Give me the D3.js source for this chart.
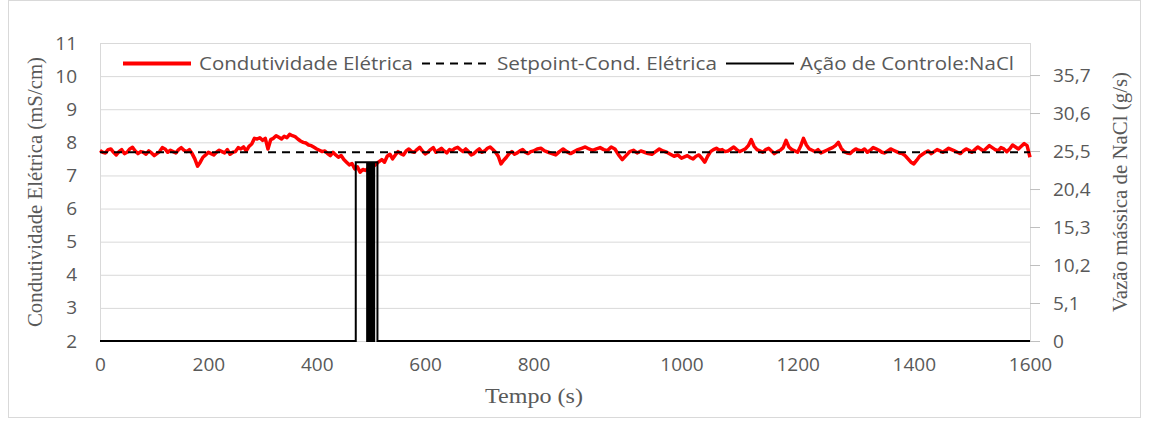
<!DOCTYPE html>
<html><head><meta charset="utf-8">
<script src="https://cdn.jsdelivr.net/npm/d3@7"></script>
<style>body{margin:0;background:#fff;}svg{display:block;}</style>
</head><body>
<svg id="c" width="1151" height="421"></svg>
<script>
// ---- data ----
const timeStep = 5;
const conductivity = [
 7.75,7.70,7.68,7.78,7.80,7.70,7.62,7.72,7.78,7.66,7.70,7.80,7.85,7.74,7.66,7.72,7.70,7.64,7.74,7.68,
 7.60,7.66,7.72,7.84,7.80,7.70,7.76,7.72,7.68,7.78,7.84,7.76,7.72,7.78,7.66,7.50,7.28,7.40,7.55,7.62,
 7.70,7.66,7.62,7.70,7.76,7.72,7.68,7.78,7.64,7.70,7.72,7.84,7.80,7.86,7.74,7.88,7.95,8.12,8.10,8.14,
 8.06,8.12,7.80,8.08,8.12,8.20,8.15,8.10,8.18,8.14,8.24,8.20,8.17,8.10,8.04,8.00,7.98,7.92,7.90,7.85,
 7.80,7.76,7.72,7.74,7.66,7.60,7.70,7.62,7.55,7.60,7.48,7.40,7.32,7.36,7.20,7.26,7.10,7.18,7.15,7.22,
 7.35,7.28,7.35,7.42,7.48,7.40,7.58,7.64,7.50,7.62,7.72,7.66,7.62,7.74,7.80,7.72,7.70,7.78,7.85,7.74,
 7.65,7.70,7.78,7.84,7.70,7.76,7.82,7.74,7.68,7.78,7.75,7.82,7.85,7.78,7.72,7.80,7.72,7.62,7.66,7.74,
 7.80,7.70,7.74,7.82,7.86,7.78,7.70,7.58,7.35,7.46,7.55,7.66,7.72,7.64,7.68,7.74,7.78,7.70,7.66,7.72,
 7.74,7.80,7.82,7.74,7.70,7.66,7.62,7.72,7.80,7.72,7.66,7.72,7.78,7.82,7.86,7.80,7.76,7.80,7.84,7.78,
 7.75,7.86,7.80,7.62,7.48,7.60,7.72,7.76,7.68,7.74,7.70,7.66,7.64,7.72,7.80,7.74,7.70,7.64,7.58,7.62,
 7.52,7.56,7.60,7.54,7.50,7.58,7.62,7.52,7.40,7.58,7.72,7.78,7.82,7.76,7.78,7.72,7.74,7.80,7.86,7.78,
 7.72,7.76,7.80,7.90,8.08,7.88,7.78,7.74,7.70,7.78,7.82,7.74,7.66,7.72,7.76,7.84,8.06,7.86,7.78,7.74,
 7.70,7.88,8.12,7.92,7.80,7.76,7.72,7.78,7.68,7.72,7.76,7.80,7.84,7.90,8.00,7.82,7.72,7.68,7.66,7.74,
 7.80,7.76,7.74,7.80,7.70,7.76,7.84,7.80,7.76,7.70,7.68,7.74,7.80,7.76,7.72,7.68,7.66,7.60,7.50,7.40,
 7.35,7.46,7.58,7.64,7.70,7.74,7.66,7.72,7.78,7.74,7.70,7.76,7.82,7.78,7.74,7.70,7.66,7.74,7.80,7.76,
 7.70,7.78,7.86,7.80,7.74,7.82,7.90,7.84,7.78,7.74,7.84,7.80,7.72,7.80,7.92,7.86,7.80,7.88,7.96,7.90,
 7.55
];
const setpoint = 7.7;
const controlTimes  = [0,472,472,493,493,494,494,495,495,496,496,497,497,498,498,499,499,500,500,501,501,502,502,503,503,506,506,512,512,1600];
const controlValues = [0,0,24,24,0,0,24,24,0,0,24,24,0,0,24,24,0,0,24,24,0,0,24,24,0,0,24,24,0,0];
const xTicks = [0,200,400,600,800,1000,1200,1400,1600];
const yLeftTicks = [2,3,4,5,6,7,8,9,10,11];
const yRightTicks = [0,5.1,10.2,15.3,20.4,25.5,30.6,35.7];
const legendLabels = ["Condutividade Elétrica","Setpoint-Cond. Elétrica","Ação de Controle:NaCl"];

// ---- layout ----
const svg = d3.select("#c");
const L = 100, R = 1030, T = 43, B = 341;
// time axis as drawn in the original (label spacing is not uniform)
const x = d3.scaleLinear().domain([0,800,1000,1600]).range([L,533.5,681.5,R]);
const yL = d3.scaleLinear().domain([2,11]).range([B,T]);
const yR = d3.scaleLinear().domain([0,40]).range([B,T]);
const grayText = "#595959";
const sans = "'Open Sans', 'Noto Sans', sans-serif";
const serif = "'Liberation Serif', 'DejaVu Serif', serif";

// outer frame
svg.append("rect").attr("x",8.5).attr("y",0.5).attr("width",1132).attr("height",417)
  .attr("fill","none").attr("stroke","#d9d9d9");

// gridlines
svg.append("g").selectAll("line").data(yLeftTicks).join("line")
  .attr("x1",L).attr("x2",R).attr("y1",d=>yL(d)+0.5).attr("y2",d=>yL(d)+0.5)
  .attr("stroke","#d9d9d9").attr("stroke-width",1);
svg.append("rect").attr("x",L+0.5).attr("y",T+0.5).attr("width",R-L).attr("height",B-T)
  .attr("fill","none").attr("stroke","#d9d9d9");

// axes
const axL = svg.append("g").attr("transform",`translate(${L},0)`)
  .call(d3.axisLeft(yL).tickValues(yLeftTicks).tickSize(0).tickPadding(23).tickFormat(d3.format("d")));
const axR = svg.append("g").attr("transform",`translate(${R},0)`)
  .call(d3.axisRight(yR).tickValues(yRightTicks).tickSize(10).tickPadding(13).tickFormat(d=>String(d).replace(".",",")));
const axB = svg.append("g").attr("transform",`translate(0,${B})`)
  .call(d3.axisBottom(x).tickValues(xTicks).tickSize(0).tickPadding(17).tickFormat(d3.format("d")));
[axL,axR,axB].forEach(a=>{
  a.select(".domain").remove();
  a.selectAll("text").attr("fill",grayText).style("font-family",sans).style("font-size","19px");
  a.selectAll("line").attr("stroke","#bfbfbf");
});

// series
const cData = conductivity.map((v,i)=>({t:i*timeStep,v}));
svg.append("path").datum(cData)
  .attr("d",d3.line().x(d=>x(d.t)).y(d=>yL(d.v)))
  .attr("fill","none").attr("stroke","#ff0000").attr("stroke-width",3.5).attr("stroke-linejoin","round");
svg.append("line").attr("x1",x(0)).attr("x2",x(1600)).attr("y1",yL(setpoint)).attr("y2",yL(setpoint))
  .attr("stroke","#000").attr("stroke-width",2.2).attr("stroke-dasharray","8,6");
const ctrl = controlTimes.map((t,i)=>({t,v:controlValues[i]}));
svg.append("path").datum(ctrl)
  .attr("d",d3.line().x(d=>x(d.t)).y(d=>yR(d.v)))
  .attr("fill","none").attr("stroke","#000").attr("stroke-width",2);

// legend
const lg = svg.append("g");
const legendItems = [
  {x:123, tx:199, tw:214, color:"#ff0000", dash:null, w:4},
  {x:422, tx:497, tw:220, color:"#000", dash:"8,6", w:2.2},
  {x:726, tx:800, tw:214, color:"#000", dash:null, w:2}
];
legendItems.forEach((it,i)=>{
  lg.append("line").attr("x1",it.x).attr("x2",it.x+68).attr("y1",63.5).attr("y2",63.5)
    .attr("stroke",it.color).attr("stroke-width",it.w).attr("stroke-dasharray",it.dash);
  lg.append("text").attr("x",it.tx).attr("y",70).text(legendLabels[i])
    .attr("textLength",it.tw).attr("lengthAdjust","spacingAndGlyphs")
    .attr("fill",grayText).style("font-family",sans).style("font-size","18px");
});

// axis titles
svg.append("text").attr("transform",`translate(42,192) rotate(-90)`).attr("text-anchor","middle")
  .attr("textLength",270).attr("lengthAdjust","spacingAndGlyphs")
  .text("Condutividade Elétrica (mS/cm)").attr("fill",grayText).style("font-family",serif).style("font-size","20px");
svg.append("text").attr("transform",`translate(1127,192) rotate(-90)`).attr("text-anchor","middle")
  .attr("textLength",240).attr("lengthAdjust","spacingAndGlyphs")
  .text("Vazão mássica de NaCl (g/s)").attr("fill",grayText).style("font-family",serif).style("font-size","20px");
svg.append("text").attr("x",534).attr("y",403).attr("text-anchor","middle")
  .attr("textLength",98).attr("lengthAdjust","spacingAndGlyphs")
  .text("Tempo (s)").attr("fill",grayText).style("font-family",serif).style("font-size","20px");
</script>
</body></html>
